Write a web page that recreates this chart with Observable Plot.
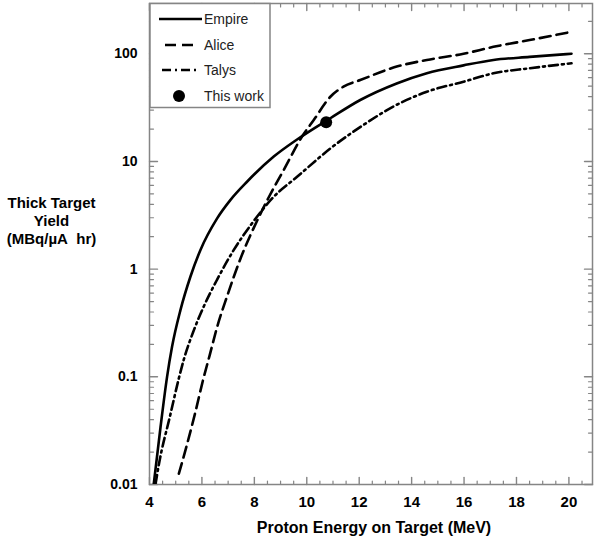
<!DOCTYPE html>
<html><head><meta charset="utf-8">
<script src="https://cdn.jsdelivr.net/npm/d3@7"></script>
<script src="https://cdn.jsdelivr.net/npm/@observablehq/plot@0.6"></script>
<style>body{margin:0;background:#fff;}</style>
</head><body><div id="chart"></div>
<script>
// ---- data ----
const seriesNames = ["Empire", "Alice", "Talys"];
const empireE = [4.16, 4.42, 4.67, 4.86, 5.18, 5.56, 5.94, 6.58, 7.09, 7.72, 8.74, 9.63, 10.9, 12.04, 13.43, 14.58, 15.98, 17.12, 18.5, 20.1];
const empireY = [0.01, 0.034, 0.1, 0.19, 0.416, 0.85, 1.5, 2.96, 4.4, 6.48, 11.1, 16, 25.2, 37.2, 53, 66, 78, 87.6, 93.5, 100];
const aliceE = [5.12, 5.44, 5.75, 6.05, 6.3, 6.58, 6.96, 7.47, 8.16, 8.54, 9.12, 9.85, 10.26, 10.9, 11.4, 12.04, 13.43, 14.58, 15.98, 17.12, 18.5, 20.1];
const aliceY = [0.0126, 0.024, 0.047, 0.095, 0.16, 0.29, 0.56, 1.25, 3.0, 4.6, 8.32, 17.5, 24.1, 39.9, 49.5, 57, 76, 87.6, 100, 116, 134, 160];
const talysE = [4.23, 4.35, 4.8, 5.12, 5.31, 5.69, 6.07, 6.58, 7.21, 7.91, 8.74, 9.63, 10.9, 12.35, 13.06, 14.58, 15.98, 17.12, 18.5, 20.1];
const talysY = [0.0101, 0.015, 0.045, 0.097, 0.145, 0.27, 0.45, 0.8, 1.5, 2.66, 4.7, 7.2, 13.2, 23.4, 30, 44.4, 55, 65.9, 73.3, 81.6];
const thisWorkE = [10.74];
const thisWorkY = [23.1];
const legendNames = ["Empire", "Alice", "Talys", "This work"];

const xTicks = [4, 6, 8, 10, 12, 14, 16, 18, 20];
const yTicks = [0.01, 0.1, 1, 10, 100];
const yTickLabels = ["0.01", "0.1", "1", "10", "100"];
const xMinor = d3.range(4.5, 20.9, 0.5).filter(v => !xTicks.includes(v));
const yMinor = [0.01, 0.1, 1, 10, 100].flatMap(d => [2,3,4,5,6,7,8,9].map(k => +(k * d).toPrecision(3))).filter(v => v < 293);

// ---- layout ----
const W = 600, H = 538, mL = 149, mR = 8, mT = 3, mB = 54;
const grey = "#858585";
const dashes = {Empire: null, Alice: "11,6", Talys: "9,4,2,4"};

const rows = (E, Y, name) => E.map((e, i) => ({E: e, Y: Y[i], name}));
const data = [
  ...rows(empireE, empireY, "Empire"),
  ...rows(aliceE, aliceY, "Alice"),
  ...rows(talysE, talysY, "Talys")
];
const dot = thisWorkE.map((e, i) => ({E: e, Y: thisWorkY[i]}));

const lineMarks = seriesNames.map(n => Plot.line(data.filter(d => d.name === n), {
  x: "E", y: "Y", curve: "monotone-x", stroke: "black", strokeWidth: 2.6,
  strokeDasharray: dashes[n], clip: true
}));

// inward tick shapes
const up = {draw(c, l) { c.moveTo(0, 0); c.lineTo(0, -l); }};
const down = {draw(c, l) { c.moveTo(0, 0); c.lineTo(0, l); }};
const right = {draw(c, l) { c.moveTo(0, 0); c.lineTo(l, 0); }};
const left = {draw(c, l) { c.moveTo(0, 0); c.lineTo(-l, 0); }};
const tx = (vals, anchor, shape, len, sw) => Plot.vector(vals, {x: d => d, frameAnchor: anchor, shape, length: len, anchor: "start", stroke: grey, strokeWidth: sw});
const ty = (vals, anchor, shape, len, sw) => Plot.vector(vals, {y: d => d, frameAnchor: anchor, shape, length: len, anchor: "start", stroke: grey, strokeWidth: sw});

const chart = Plot.plot({
  width: W, height: H,
  marginLeft: mL, marginRight: mR, marginTop: mT, marginBottom: mB,
  style: {fontFamily: "'Liberation Sans', Arial, sans-serif", background: "white", color: "black"},
  x: {domain: [4, 20.9]},
  y: {type: "log", domain: [0.01, 293]},
  marks: [
    tx(xTicks, "bottom", up, 7, 1.4),
    tx(xTicks, "top", down, 7, 1.4),
    tx(xMinor, "bottom", up, 3.5, 1.2),
    tx(xMinor, "top", down, 3.5, 1.2),
    ty(yTicks, "left", right, 8, 1.4),
    ty(yTicks, "right", left, 8, 1.4),
    ty(yMinor, "left", right, 4, 1.2),
    ty(yMinor, "right", left, 4, 1.2),
    Plot.frame({stroke: grey, strokeWidth: 1.5}),
    Plot.axisX(xTicks, {tickSize: 0, tickPadding: 12, fontSize: 15, fontWeight: "bold", label: null, fill: "black"}),
    Plot.axisY(yTicks, {tickSize: 0, tickPadding: 12, fontSize: 14, fontWeight: "bold", label: null, fill: "black",
      tickFormat: d => yTickLabels[yTicks.indexOf(d)]}),
    ...lineMarks,
    Plot.dot(dot, {x: "E", y: "Y", r: 6, fill: "black", stroke: "none"}),
    Plot.text(["Proton Energy on Target (MeV)"], {frameAnchor: "bottom", dx: 3, dy: 43, fontSize: 16, fontWeight: "bold", lineAnchor: "middle", fill: "black"}),
    Plot.text(["Thick Target\nYield\n(MBq/µA\u00a0 hr)"], {frameAnchor: "top-left", dx: -98, dy: 217, fontSize: 15, fontWeight: "bold", lineAnchor: "middle", lineHeight: 1.2, textAnchor: "middle", fill: "black"})
  ]
});
document.getElementById("chart").appendChild(chart);

// ---- legend (inside plot, top-left) ----
const svg = d3.select(chart);
const lg = svg.append("g").attr("font-family", "'Liberation Sans', Arial, sans-serif").attr("font-size", 14).attr("text-anchor", "start");
lg.append("rect").attr("x", 150).attr("y", 3.5).attr("width", 120).attr("height", 104)
  .attr("fill", "white").attr("stroke", grey).attr("stroke-width", 1.5);
const rowY = [19, 45, 70, 96];
const sampleX = [[159, 202], [165, 198], [162, 198]];
legendNames.forEach((name, i) => {
  const y = rowY[i];
  if (i < 3) {
    lg.append("line").attr("x1", sampleX[i][0]).attr("x2", sampleX[i][1]).attr("y1", y).attr("y2", y)
      .attr("stroke", "black").attr("stroke-width", 2.6)
      .attr("stroke-dasharray", dashes[name] || null);
  } else {
    lg.append("circle").attr("cx", 179).attr("cy", y).attr("r", 6).attr("fill", "black");
  }
  lg.append("text").attr("x", 204).attr("y", y + 5).attr("fill", "#222").attr("text-anchor", "start").text(name);
});
</script>
</body></html>
